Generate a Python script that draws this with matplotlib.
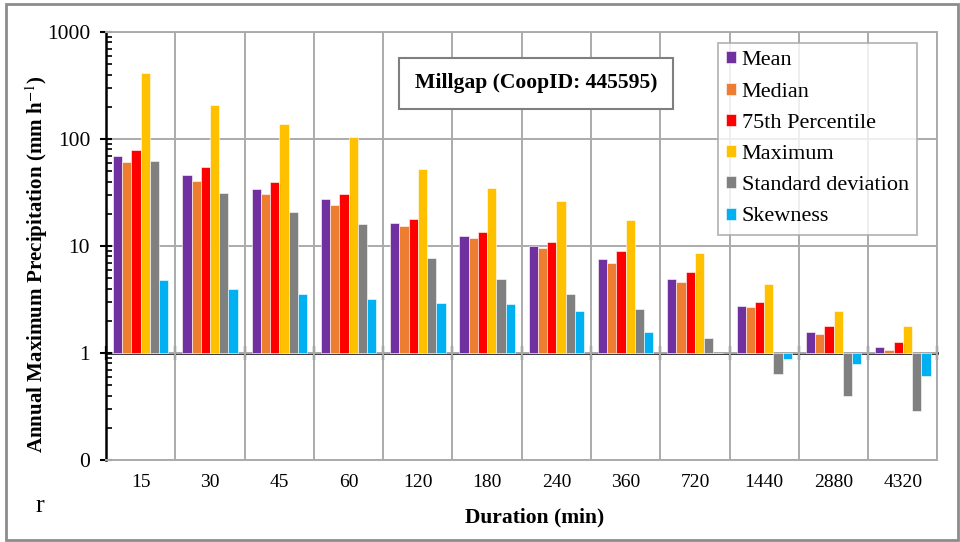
import numpy as np
import matplotlib.pyplot as plt
from matplotlib.ticker import FixedLocator, FuncFormatter, LogLocator, NullFormatter
from matplotlib.patches import Rectangle

durations = ["15", "30", "45", "60", "120", "180", "240", "360", "720", "1440", "2880", "4320"]
mean = [69.8, 45.8, 33.9, 27.5, 16.6, 12.3, 10.1, 7.6, 4.9, 2.77, 1.56, 1.14]
median = [61.0, 40.5, 30.6, 24.2, 15.3, 11.8, 9.6, 7.0, 4.6, 2.67, 1.51, 1.07]
p75 = [79.0, 54.7, 39.6, 30.4, 17.8, 13.6, 10.9, 9.0, 5.7, 3.0, 1.80, 1.28]
maximum = [414, 208, 138, 104, 52, 34.6, 26.2, 17.5, 8.7, 4.39, 2.45, 1.81]
std_dev = [62.0, 31.0, 20.9, 16.0, 7.7, 4.9, 3.6, 2.58, 1.37, 0.637, 0.396, 0.287]
skewness = [4.84, 3.99, 3.56, 3.2, 2.91, 2.85, 2.47, 1.58, 1.0, 0.885, 0.794, 0.61]

series = [
    ("Mean", mean, "#7030A0"),
    ("Median", median, "#ED7D31"),
    ("75th Percentile", p75, "#FF0000"),
    ("Maximum", maximum, "#FFC000"),
    ("Standard deviation", std_dev, "#808080"),
    ("Skewness", skewness, "#00B0F0"),
]

plt.rcParams['font.family'] = ['Liberation Serif', 'DejaVu Serif']
plt.rcParams['mathtext.fontset'] = 'stix'

fig = plt.figure(figsize=(9.6, 5.42), dpi=100)
ax = fig.add_axes([0.1105, 0.151, 0.866, 0.790])

grid_c = "#ABABAB"
x = np.arange(len(durations))
n = len(series)
w = 0.8 / n
for i, (name, vals, col) in enumerate(series):
    vals = np.array(vals)
    ax.bar(x - 0.4 + w * (i + 0.5), vals - 1, bottom=1, width=w, color=col,
           edgecolor="white", linewidth=0.4, label=name, zorder=3)

ax.set_yscale('log')
ax.set_ylim(0.1, 1000)
ax.set_xlim(-0.5, len(durations) - 0.5)

ax.yaxis.set_major_locator(FixedLocator([0.1, 1, 10, 100, 1000]))
ax.yaxis.set_major_formatter(FuncFormatter(lambda v, p: "0" if v < 1 else f"{v:.0f}"))
ax.yaxis.set_minor_locator(LogLocator(base=10, subs=np.arange(2, 10), numticks=20))
ax.yaxis.set_minor_formatter(NullFormatter())
ax.tick_params(axis='y', which='major', direction='inout', length=9, width=1.5, labelsize=15.5, pad=7)
ax.tick_params(axis='y', which='minor', direction='in', length=4, width=1.2)

ax.set_xticks(x)
ax.set_xticklabels(durations)
ax.set_xticks(np.arange(len(durations) + 1) - 0.5, minor=True)
ax.tick_params(axis='x', which='major', length=0, labelsize=14, pad=10)
ax.tick_params(axis='x', which='minor', length=0)

ax.grid(True, which='major', axis='y', color=grid_c, linewidth=1.4, zorder=0)
ax.grid(True, which='minor', axis='x', color=grid_c, linewidth=1.4, zorder=0)
ax.set_axisbelow(True)

for s in ['top', 'right', 'bottom']:
    ax.spines[s].set_color(grid_c)
    ax.spines[s].set_linewidth(1.4)
ax.spines['left'].set_color('black')
ax.spines['left'].set_linewidth(1.8)

# horizontal category axis crossing at 1
sec = ax.secondary_xaxis(0.25)
sec.set_xticks(np.arange(len(durations) + 1) - 0.5)
sec.set_xticklabels([])
sec.tick_params(direction='inout', length=10, width=1.6, color='black')
sec.spines['bottom'].set_linewidth(1.8)
sec.spines['bottom'].set_color('black')

ax.set_ylabel("Annual Maximum Precipitation (mm h$^{-1}$)", fontsize=15.1, fontweight='bold')
ax.yaxis.set_label_coords(-0.067, 0.458)
ax.set_xlabel("Duration (min)", fontsize=15.5, fontweight='bold')
ax.xaxis.set_label_coords(0.516, -0.11)

ax.text(0.517, 0.880, "Millgap (CoopID: 445595)", transform=ax.transAxes,
        fontsize=15.6, fontweight='bold', ha='center', va='center', zorder=5,
        bbox=dict(boxstyle='square,pad=0.72', facecolor='white', edgecolor='#7F7F7F', linewidth=1.5))

leg = ax.legend(loc='upper right', bbox_to_anchor=(0.9755, 0.9745), fontsize=16, frameon=True,
                fancybox=False, edgecolor=grid_c, handlelength=0.45, handleheight=0.45,
                handletextpad=0.25, labelspacing=0.55, borderpad=0.38, borderaxespad=0)
leg.get_frame().set_linewidth(1.4)
leg.set_zorder(6)

fig.text(0.037, 0.055, "r", fontsize=19)
fig.patches.append(Rectangle((0.006, 0.004), 0.992, 0.988, transform=fig.transFigure,
                             fill=False, edgecolor='#8C8C8C', linewidth=2))

fig.savefig("out.png", dpi=100)
